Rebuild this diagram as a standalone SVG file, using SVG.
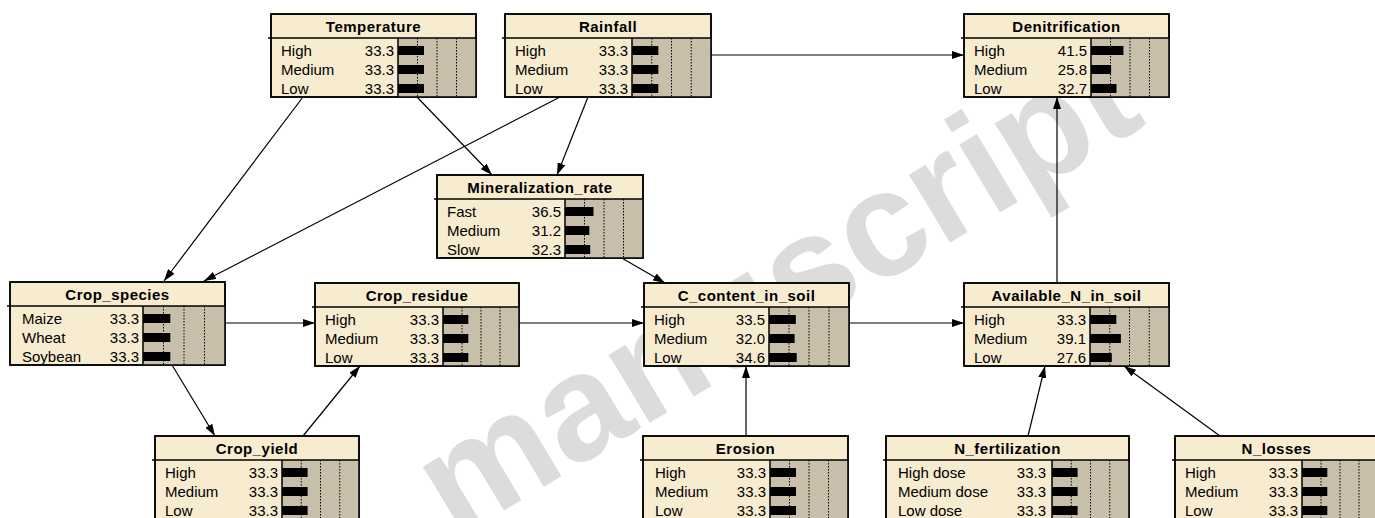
<svg xmlns="http://www.w3.org/2000/svg" width="1375" height="518" viewBox="0 0 1375 518">
<style>
.box{fill:#f7ebd0;stroke:#000;stroke-width:1.5}
.ba{fill:#c8bfaa}
.sep{stroke:#000;stroke-width:1.5}
.grid{stroke:#000;stroke-width:1;stroke-dasharray:1.5 1.5}
.bar{fill:#000}
.t{font-family:"Liberation Sans",Arial,sans-serif;font-size:15px;font-weight:bold;letter-spacing:0.5px;text-anchor:middle;fill:#000}
.l{font-family:"Liberation Sans",Arial,sans-serif;font-size:15px;fill:#000}
.v{font-family:"Liberation Sans",Arial,sans-serif;font-size:15px;fill:#000;text-anchor:end}
.e{stroke:#000;stroke-width:1.2;fill:none;marker-end:url(#arr)}
.wm{font-family:"Liberation Sans",Arial,sans-serif;font-size:150px;font-weight:bold;fill:#dcdcdc}
</style>
<defs>
<marker id="arr" markerUnits="userSpaceOnUse" markerWidth="12" markerHeight="8" refX="12" refY="4" orient="auto">
<path d="M0,0 L12,4 L0,8 z" fill="#000"/>
</marker>
</defs>
<rect width="1375" height="518" fill="#fff"/>
<text class="wm" transform="translate(455,540) rotate(-31)">manuscript</text>
<g id="connectors">
<line class="e" x1="303" y1="97" x2="164" y2="281"/>
<line class="e" x1="417" y1="97" x2="492" y2="175"/>
<line class="e" x1="560" y1="97" x2="204" y2="281"/>
<line class="e" x1="588" y1="97" x2="557" y2="175"/>
<line class="e" x1="711" y1="55" x2="964" y2="55"/>
<line class="e" x1="620" y1="257" x2="665" y2="283"/>
<line class="e" x1="225" y1="323" x2="315" y2="323"/>
<line class="e" x1="519" y1="323" x2="644" y2="323"/>
<line class="e" x1="849" y1="323" x2="964" y2="323"/>
<line class="e" x1="1057" y1="283" x2="1057" y2="97"/>
<line class="e" x1="172" y1="365" x2="215" y2="436"/>
<line class="e" x1="303" y1="436" x2="360" y2="366"/>
<line class="e" x1="746" y1="436" x2="746" y2="366"/>
<line class="e" x1="1028" y1="436" x2="1045" y2="366"/>
<line class="e" x1="1220" y1="436" x2="1124" y2="366"/>
</g>

<g id="temperature" transform="translate(271,14)">
<rect class="box" width="205" height="83"/>
<rect class="ba" x="127" y="24" width="78" height="59"/>
<line class="sep" x1="-3" y1="24" x2="205" y2="24"/>
<line class="sep" x1="127" y1="24" x2="127" y2="83"/>
<line class="grid" x1="146.5" y1="24" x2="146.5" y2="83"/><line class="grid" x1="166" y1="24" x2="166" y2="83"/><line class="grid" x1="185.5" y1="24" x2="185.5" y2="83"/>
<rect class="bar" x="127" y="32" width="26" height="9"/><rect class="bar" x="127" y="51" width="26" height="9"/><rect class="bar" x="127" y="70" width="26" height="9"/>
<rect class="box" width="205" height="83" style="fill:none"/>
<text class="t" x="102.5" y="18">Temperature</text>
<text class="l" x="10" y="41.5">High</text><text class="v" x="123" y="41.5">33.3</text>
<text class="l" x="10" y="60.5">Medium</text><text class="v" x="123" y="60.5">33.3</text>
<text class="l" x="10" y="79.5">Low</text><text class="v" x="123" y="79.5">33.3</text>
</g>

<g id="rainfall" transform="translate(505,14)">
<rect class="box" width="206" height="83"/>
<rect class="ba" x="127" y="24" width="79" height="59"/>
<line class="sep" x1="-3" y1="24" x2="206" y2="24"/>
<line class="sep" x1="127" y1="24" x2="127" y2="83"/>
<line class="grid" x1="146.75" y1="24" x2="146.75" y2="83"/><line class="grid" x1="166.5" y1="24" x2="166.5" y2="83"/><line class="grid" x1="186.25" y1="24" x2="186.25" y2="83"/>
<rect class="bar" x="127" y="32" width="26.3" height="9"/><rect class="bar" x="127" y="51" width="26.3" height="9"/><rect class="bar" x="127" y="70" width="26.3" height="9"/>
<rect class="box" width="206" height="83" style="fill:none"/>
<text class="t" x="103" y="18">Rainfall</text>
<text class="l" x="10" y="41.5">High</text><text class="v" x="123" y="41.5">33.3</text>
<text class="l" x="10" y="60.5">Medium</text><text class="v" x="123" y="60.5">33.3</text>
<text class="l" x="10" y="79.5">Low</text><text class="v" x="123" y="79.5">33.3</text>
</g>

<g id="denitrification" transform="translate(964,14)">
<rect class="box" width="205" height="83"/>
<rect class="ba" x="127" y="24" width="78" height="59"/>
<line class="sep" x1="-3" y1="24" x2="205" y2="24"/>
<line class="sep" x1="127" y1="24" x2="127" y2="83"/>
<line class="grid" x1="146.5" y1="24" x2="146.5" y2="83"/><line class="grid" x1="166" y1="24" x2="166" y2="83"/><line class="grid" x1="185.5" y1="24" x2="185.5" y2="83"/>
<rect class="bar" x="127" y="32" width="32.4" height="9"/><rect class="bar" x="127" y="51" width="20.1" height="9"/><rect class="bar" x="127" y="70" width="25.5" height="9"/>
<rect class="box" width="205" height="83" style="fill:none"/>
<text class="t" x="102.5" y="18">Denitrification</text>
<text class="l" x="10" y="41.5">High</text><text class="v" x="123" y="41.5">41.5</text>
<text class="l" x="10" y="60.5">Medium</text><text class="v" x="123" y="60.5">25.8</text>
<text class="l" x="10" y="79.5">Low</text><text class="v" x="123" y="79.5">32.7</text>
</g>

<g id="mineralization_rate" transform="translate(437,175)">
<rect class="box" width="206" height="83"/>
<rect class="ba" x="128" y="24" width="78" height="59"/>
<line class="sep" x1="-3" y1="24" x2="206" y2="24"/>
<line class="sep" x1="128" y1="24" x2="128" y2="83"/>
<line class="grid" x1="147.5" y1="24" x2="147.5" y2="83"/><line class="grid" x1="167" y1="24" x2="167" y2="83"/><line class="grid" x1="186.5" y1="24" x2="186.5" y2="83"/>
<rect class="bar" x="128" y="32" width="28.5" height="9"/><rect class="bar" x="128" y="51" width="24.3" height="9"/><rect class="bar" x="128" y="70" width="25.2" height="9"/>
<rect class="box" width="206" height="83" style="fill:none"/>
<text class="t" x="103" y="18">Mineralization_rate</text>
<text class="l" x="10" y="41.5">Fast</text><text class="v" x="124" y="41.5">36.5</text>
<text class="l" x="10" y="60.5">Medium</text><text class="v" x="124" y="60.5">31.2</text>
<text class="l" x="10" y="79.5">Slow</text><text class="v" x="124" y="79.5">32.3</text>
</g>

<g id="crop_species" transform="translate(10,282)">
<rect class="box" width="215" height="83"/>
<rect class="ba" x="133" y="24" width="82" height="59"/>
<line class="sep" x1="-3" y1="24" x2="215" y2="24"/>
<line class="sep" x1="133" y1="24" x2="133" y2="83"/>
<line class="grid" x1="153.5" y1="24" x2="153.5" y2="83"/><line class="grid" x1="174" y1="24" x2="174" y2="83"/><line class="grid" x1="194.5" y1="24" x2="194.5" y2="83"/>
<rect class="bar" x="133" y="32" width="27.3" height="9"/><rect class="bar" x="133" y="51" width="27.3" height="9"/><rect class="bar" x="133" y="70" width="27.3" height="9"/>
<rect class="box" width="215" height="83" style="fill:none"/>
<text class="t" x="107.5" y="18">Crop_species</text>
<text class="l" x="12" y="41.5">Maize</text><text class="v" x="129" y="41.5">33.3</text>
<text class="l" x="12" y="60.5">Wheat</text><text class="v" x="129" y="60.5">33.3</text>
<text class="l" x="12" y="79.5">Soybean</text><text class="v" x="129" y="79.5">33.3</text>
</g>

<g id="crop_residue" transform="translate(315,283)">
<rect class="box" width="204" height="83"/>
<rect class="ba" x="128" y="24" width="76" height="59"/>
<line class="sep" x1="-3" y1="24" x2="204" y2="24"/>
<line class="sep" x1="128" y1="24" x2="128" y2="83"/>
<line class="grid" x1="147" y1="24" x2="147" y2="83"/><line class="grid" x1="166" y1="24" x2="166" y2="83"/><line class="grid" x1="185" y1="24" x2="185" y2="83"/>
<rect class="bar" x="128" y="32" width="25.3" height="9"/><rect class="bar" x="128" y="51" width="25.3" height="9"/><rect class="bar" x="128" y="70" width="25.3" height="9"/>
<rect class="box" width="204" height="83" style="fill:none"/>
<text class="t" x="102" y="18">Crop_residue</text>
<text class="l" x="10" y="41.5">High</text><text class="v" x="124" y="41.5">33.3</text>
<text class="l" x="10" y="60.5">Medium</text><text class="v" x="124" y="60.5">33.3</text>
<text class="l" x="10" y="79.5">Low</text><text class="v" x="124" y="79.5">33.3</text>
</g>

<g id="c_content_in_soil" transform="translate(644,283)">
<rect class="box" width="205" height="83"/>
<rect class="ba" x="125" y="24" width="80" height="59"/>
<line class="sep" x1="-3" y1="24" x2="205" y2="24"/>
<line class="sep" x1="125" y1="24" x2="125" y2="83"/>
<line class="grid" x1="145" y1="24" x2="145" y2="83"/><line class="grid" x1="165" y1="24" x2="165" y2="83"/><line class="grid" x1="185" y1="24" x2="185" y2="83"/>
<rect class="bar" x="125" y="32" width="26.8" height="9"/><rect class="bar" x="125" y="51" width="25.6" height="9"/><rect class="bar" x="125" y="70" width="27.7" height="9"/>
<rect class="box" width="205" height="83" style="fill:none"/>
<text class="t" x="102.5" y="18">C_content_in_soil</text>
<text class="l" x="10" y="41.5">High</text><text class="v" x="121" y="41.5">33.5</text>
<text class="l" x="10" y="60.5">Medium</text><text class="v" x="121" y="60.5">32.0</text>
<text class="l" x="10" y="79.5">Low</text><text class="v" x="121" y="79.5">34.6</text>
</g>

<g id="available_n_in_soil" transform="translate(964,283)">
<rect class="box" width="205" height="83"/>
<rect class="ba" x="126" y="24" width="79" height="59"/>
<line class="sep" x1="-3" y1="24" x2="205" y2="24"/>
<line class="sep" x1="126" y1="24" x2="126" y2="83"/>
<line class="grid" x1="145.75" y1="24" x2="145.75" y2="83"/><line class="grid" x1="165.5" y1="24" x2="165.5" y2="83"/><line class="grid" x1="185.25" y1="24" x2="185.25" y2="83"/>
<rect class="bar" x="126" y="32" width="26.3" height="9"/><rect class="bar" x="126" y="51" width="30.9" height="9"/><rect class="bar" x="126" y="70" width="21.8" height="9"/>
<rect class="box" width="205" height="83" style="fill:none"/>
<text class="t" x="102.5" y="18">Available_N_in_soil</text>
<text class="l" x="10" y="41.5">High</text><text class="v" x="122" y="41.5">33.3</text>
<text class="l" x="10" y="60.5">Medium</text><text class="v" x="122" y="60.5">39.1</text>
<text class="l" x="10" y="79.5">Low</text><text class="v" x="122" y="79.5">27.6</text>
</g>

<g id="crop_yield" transform="translate(155,436)">
<rect class="box" width="204" height="83"/>
<rect class="ba" x="127" y="24" width="77" height="59"/>
<line class="sep" x1="-3" y1="24" x2="204" y2="24"/>
<line class="sep" x1="127" y1="24" x2="127" y2="83"/>
<line class="grid" x1="146.25" y1="24" x2="146.25" y2="83"/><line class="grid" x1="165.5" y1="24" x2="165.5" y2="83"/><line class="grid" x1="184.75" y1="24" x2="184.75" y2="83"/>
<rect class="bar" x="127" y="32" width="25.6" height="9"/><rect class="bar" x="127" y="51" width="25.6" height="9"/><rect class="bar" x="127" y="70" width="25.6" height="9"/>
<rect class="box" width="204" height="83" style="fill:none"/>
<text class="t" x="102" y="18">Crop_yield</text>
<text class="l" x="10" y="41.5">High</text><text class="v" x="123" y="41.5">33.3</text>
<text class="l" x="10" y="60.5">Medium</text><text class="v" x="123" y="60.5">33.3</text>
<text class="l" x="10" y="79.5">Low</text><text class="v" x="123" y="79.5">33.3</text>
</g>

<g id="erosion" transform="translate(643,436)">
<rect class="box" width="205" height="83"/>
<rect class="ba" x="127" y="24" width="78" height="59"/>
<line class="sep" x1="-3" y1="24" x2="205" y2="24"/>
<line class="sep" x1="127" y1="24" x2="127" y2="83"/>
<line class="grid" x1="146.5" y1="24" x2="146.5" y2="83"/><line class="grid" x1="166" y1="24" x2="166" y2="83"/><line class="grid" x1="185.5" y1="24" x2="185.5" y2="83"/>
<rect class="bar" x="127" y="32" width="26" height="9"/><rect class="bar" x="127" y="51" width="26" height="9"/><rect class="bar" x="127" y="70" width="26" height="9"/>
<rect class="box" width="205" height="83" style="fill:none"/>
<text class="t" x="102.5" y="18">Erosion</text>
<text class="l" x="12" y="41.5">High</text><text class="v" x="123" y="41.5">33.3</text>
<text class="l" x="12" y="60.5">Medium</text><text class="v" x="123" y="60.5">33.3</text>
<text class="l" x="12" y="79.5">Low</text><text class="v" x="123" y="79.5">33.3</text>
</g>

<g id="n_fertilization" transform="translate(886,436)">
<rect class="box" width="243" height="83"/>
<rect class="ba" x="166" y="24" width="77" height="59"/>
<line class="sep" x1="-3" y1="24" x2="243" y2="24"/>
<line class="sep" x1="166" y1="24" x2="166" y2="83"/>
<line class="grid" x1="185.25" y1="24" x2="185.25" y2="83"/><line class="grid" x1="204.5" y1="24" x2="204.5" y2="83"/><line class="grid" x1="223.75" y1="24" x2="223.75" y2="83"/>
<rect class="bar" x="166" y="32" width="25.6" height="9"/><rect class="bar" x="166" y="51" width="25.6" height="9"/><rect class="bar" x="166" y="70" width="25.6" height="9"/>
<rect class="box" width="243" height="83" style="fill:none"/>
<text class="t" x="121.5" y="18">N_fertilization</text>
<text class="l" x="12" y="41.5">High dose</text><text class="v" x="160" y="41.5">33.3</text>
<text class="l" x="12" y="60.5">Medium dose</text><text class="v" x="160" y="60.5">33.3</text>
<text class="l" x="12" y="79.5">Low dose</text><text class="v" x="160" y="79.5">33.3</text>
</g>

<g id="n_losses" transform="translate(1175,436)">
<rect class="box" width="203" height="83"/>
<rect class="ba" x="127" y="24" width="76" height="59"/>
<line class="sep" x1="-3" y1="24" x2="203" y2="24"/>
<line class="sep" x1="127" y1="24" x2="127" y2="83"/>
<line class="grid" x1="146" y1="24" x2="146" y2="83"/><line class="grid" x1="165" y1="24" x2="165" y2="83"/><line class="grid" x1="184" y1="24" x2="184" y2="83"/>
<rect class="bar" x="127" y="32" width="25.3" height="9"/><rect class="bar" x="127" y="51" width="25.3" height="9"/><rect class="bar" x="127" y="70" width="25.3" height="9"/>
<rect class="box" width="203" height="83" style="fill:none"/>
<text class="t" x="101.5" y="18">N_losses</text>
<text class="l" x="10" y="41.5">High</text><text class="v" x="123" y="41.5">33.3</text>
<text class="l" x="10" y="60.5">Medium</text><text class="v" x="123" y="60.5">33.3</text>
<text class="l" x="10" y="79.5">Low</text><text class="v" x="123" y="79.5">33.3</text>
</g>
</svg>
